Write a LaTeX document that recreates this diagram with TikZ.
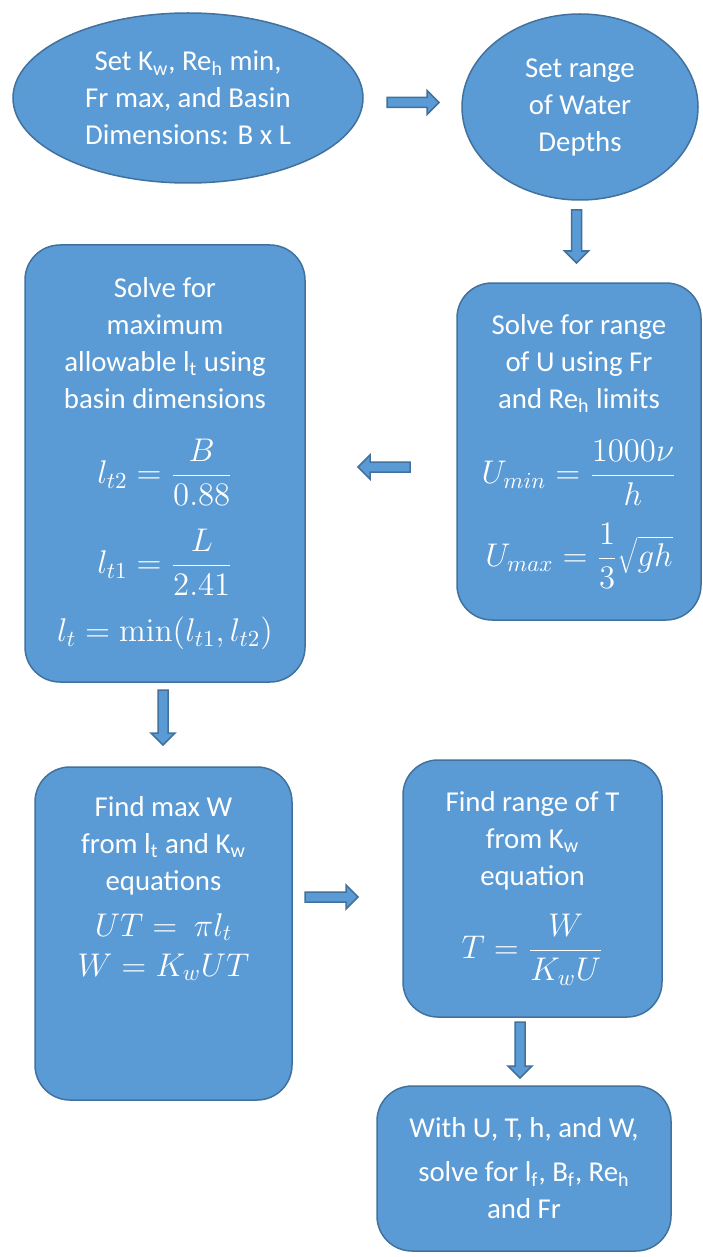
\RequirePackage{fix-cm}
\documentclass[tikz,border=0pt]{standalone}
\usepackage[no-math]{fontspec}
\setmainfont{Carlito}
\usetikzlibrary{shapes.geometric,calc}
\definecolor{boxfill}{HTML}{5B9BD5}
\definecolor{bord}{HTML}{41719C}
\newcommand{\boxfont}{\fontsize{14.4}{18.5}\selectfont}
\newcommand{\mth}[1]{{\fontsize{16.4}{18.5}\selectfont$\displaystyle #1$}}
\tikzset{
  base/.style={draw=bord, fill=boxfill, line width=0.75pt, text=white, align=center, inner sep=0pt,
    font={\boxfont}},
  oval/.style={base, ellipse},
  rbox/.style={base, rectangle, rounded corners=17.5pt},
  blk/.style={draw=bord, fill=boxfill, line width=0.75pt, line join=miter,
    to path={let \p1=(\tikztostart), \p2=(\tikztotarget),
      \n1={veclen(\x2-\x1,\y2-\y1)},
      \n2={scalar((\x2-\x1)/\n1)},
      \n3={scalar((\y2-\y1)/\n1)},
      \n4={\n1-6pt} in
      ({\x1-2.5pt*\n3},{\y1+2.5pt*\n2})
      -- ({\x1+\n4*\n2-2.5pt*\n3},{\y1+\n4*\n3+2.5pt*\n2})
      -- ({\x1+\n4*\n2-6pt*\n3},{\y1+\n4*\n3+6pt*\n2})
      -- (\p2)
      -- ({\x1+\n4*\n2+6pt*\n3},{\y1+\n4*\n3-6pt*\n2})
      -- ({\x1+\n4*\n2+2.5pt*\n3},{\y1+\n4*\n3-2.5pt*\n2})
      -- ({\x1+2.5pt*\n3},{\y1-2.5pt*\n2})
      -- cycle}}
}
\begin{document}
\begin{tikzpicture}[x=0.5pt,y=-0.5pt]
\lineskiplimit=-100pt\relax
\lineskip=0pt\relax
\fill[white] (0,0) rectangle (702,1257);
\useasboundingbox (0,0) rectangle (702,1257);

% nodes
\node[oval, minimum width=175pt, minimum height=85pt] (e1) at (188,98)
  {Set K\textsubscript{w}, Re\textsubscript{h} min,\\Fr max, and Basin\\Dimensions: B x L};
\node[oval, minimum width=118pt, minimum height=93pt] (e2) at (580,107)
  {Set range\\of Water\\Depths};

\node[rbox, minimum width=122pt, minimum height=168.5pt] (b2) at (579,451.5)
  {Solve for range\\of U using Fr\\and Re\textsubscript{h} limits\\[19pt]
   \mth{U_{min}=\frac{1000\nu}{h}}\\[23pt]
   \mth{U_{max}=\frac{1}{3}\sqrt{gh}}};

\node[rbox, minimum width=140pt, minimum height=218.5pt] (b1) at (165,463.5)
  {Solve for\\maximum\\allowable l\textsubscript{t} using\\basin dimensions\\[19pt]
   \mth{l_{t2}=\frac{B}{0.88}}\\[26.5pt]
   \mth{l_{t1}=\frac{L}{2.41}}\\[15.5pt]
   \mth{l_{t}=\min(l_{t1},l_{t2})}};

\node[rbox, minimum width=128.5pt, minimum height=166.5pt] (b3) at (163.5,933.5)
  {Find max W\\from l\textsubscript{t} and K\textsubscript{w}\\equations\\[4.5pt]
   \mth{UT=\ \pi l_t}\\[1.5pt]
   \mth{W=K_wUT}\\[29pt]\mbox{}};

\node[rbox, minimum width=129.5pt, minimum height=128.5pt] (b4) at (532.5,888.5)
  {Find range of T\\from K\textsubscript{w}\\equation\\[18pt]
   \mth{T=\frac{W}{K_wU}}};

\node[rbox, minimum width=147pt, minimum height=82.5pt] (b5) at (524,1168.5)
  {With U, T, h, and W,\\[3.5pt]
   solve for l\textsubscript{f}, B\textsubscript{f}, Re\textsubscript{h}\\and Fr};

% connector ends
\coordinate (a1s) at (387,102.5);  \coordinate (a1e) at (439,102.5);
\coordinate (a2s) at (576.5,210);  \coordinate (a2e) at (576.5,263);
\coordinate (a3s) at (410,467);    \coordinate (a3e) at (358,467);
\coordinate (a4s) at (163,690);    \coordinate (a4e) at (163,745);
\coordinate (a5s) at (305,897);    \coordinate (a5e) at (358,897);
\coordinate (a6s) at (520,1022);   \coordinate (a6e) at (520,1078);

\draw[blk] (a1s) to (a1e);
\draw[blk] (a2s) to (a2e);
\draw[blk] (a3s) to (a3e);
\draw[blk] (a4s) to (a4e);
\draw[blk] (a5s) to (a5e);
\draw[blk] (a6s) to (a6e);
\end{tikzpicture}
\end{document}
